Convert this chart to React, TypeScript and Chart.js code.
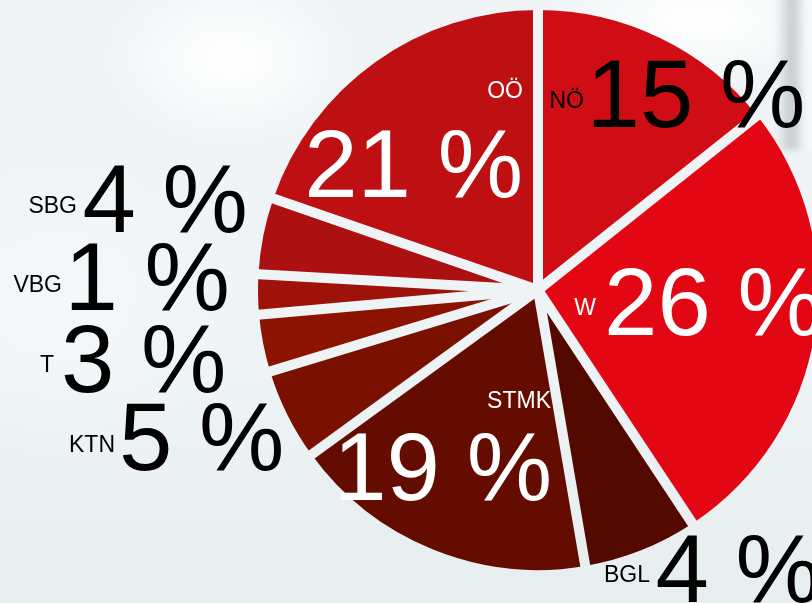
import React, { useEffect, useRef } from "react";
import { Chart, registerables } from "chart.js";

Chart.register(...registerables);

// Regions in drawing order (clockwise from 12 o'clock)
const regions = ["NÖ", "W", "BGL", "STMK", "KTN", "T", "VBG", "SBG", "OÖ"];
// Slice shares as drawn in the picture
const sliceShares = [14.3, 26.4, 6.6, 17.7, 5.3, 3.3, 2.3, 4.4, 19.7];
// Percent labels printed on the chart
const percentLabels = ["15 %", "26 %", "4 %", "19 %", "5 %", "3 %", "1 %", "4 %", "21 %"];

const sliceColors = [
  "#d00c15",
  "#e30613",
  "#530800",
  "#650c00",
  "#7a1100",
  "#8c1300",
  "#9e1209",
  "#ac1010",
  "#be0f12",
];
const labelColors = ["#000", "#fff", "#000", "#fff", "#000", "#000", "#000", "#000", "#fff"];

// Label layout relative to pie centre, in px for a 280px radius.
const labelLayout = [
  { bigAlign: "left", bx: 48.5, by: -163, sx: 46, sy: -182 },
  { bigAlign: "left", bx: 66, by: 45, sx: 58, sy: 25 },
  { bigAlign: "left", bx: 117.5, by: 312, sx: 112, sy: 292 },
  { bigAlign: "right", bx: 14, by: 210, sx: 13, sy: 118 },
  { bigAlign: "left", bx: -419, by: 180, sx: -423, sy: 162 },
  { bigAlign: "left", bx: -477, by: 102, sx: -484, sy: 82 },
  { bigAlign: "left", bx: -473.5, by: 20, sx: -476, sy: 2 },
  { bigAlign: "left", bx: -455.5, by: -58, sx: -461, sy: -77 },
  { bigAlign: "right", bx: -15, by: -93, sx: -15, sy: -192 },
];

const FONT = "'Liberation Sans', Arial, sans-serif";
const GAP = 10;

const gapAndLabelPlugin = {
  id: "gapsAndLabels",
  afterDatasetsDraw(chart: any) {
    const ctx = chart.ctx;
    const meta = chart.getDatasetMeta(0);
    // cut the white gaps between slices through to the page background
    ctx.save();
    ctx.globalCompositeOperation = "destination-out";
    ctx.strokeStyle = "#000";
    ctx.lineWidth = GAP;
    ctx.lineCap = "butt";
    meta.data.forEach((arc: any) => {
      const p = arc.getProps(["x", "y", "startAngle", "outerRadius"], true);
      const r = p.outerRadius + 4;
      ctx.beginPath();
      ctx.moveTo(p.x, p.y);
      ctx.lineTo(p.x + Math.cos(p.startAngle) * r, p.y + Math.sin(p.startAngle) * r);
      ctx.stroke();
    });
    ctx.restore();

    ctx.save();
    meta.data.forEach((arc: any, i: number) => {
      const p = arc.getProps(["x", "y", "outerRadius"], true);
      const k = p.outerRadius / 280;
      const L = labelLayout[i];
      ctx.fillStyle = labelColors[i];
      ctx.textBaseline = "alphabetic";
      ctx.font = `${Math.round(96 * k)}px ${FONT}`;
      ctx.textAlign = L.bigAlign;
      ctx.fillText(percentLabels[i], p.x + L.bx * k, p.y + L.by * k);
      ctx.font = `${Math.round(23 * k)}px ${FONT}`;
      ctx.textAlign = "right";
      ctx.fillText(regions[i], p.x + L.sx * k, p.y + L.sy * k);
    });
    ctx.restore();
  },
};

export default function App() {
  const ref = useRef<HTMLCanvasElement | null>(null);

  useEffect(() => {
    if (!ref.current) return;
    const chart = new Chart(ref.current, {
      type: "pie",
      data: {
        labels: regions,
        datasets: [
          {
            data: sliceShares,
            backgroundColor: sliceColors,
            borderWidth: 0,
            hoverOffset: 0,
            offset: 0,
          },
        ],
      },
      options: {
        responsive: false,
        animation: false,
        devicePixelRatio: 1,
        layout: { padding: { top: 10, bottom: 33, left: 0, right: 0 } },
        plugins: {
          legend: { display: false },
          title: { display: false },
          tooltip: { enabled: false },
        },
        events: [],
      },
      plugins: [gapAndLabelPlugin],
    });
    return () => chart.destroy();
  }, []);

  return (
    <div
      style={{
        position: "fixed",
        left: 0,
        top: 0,
        width: 812,
        height: 603,
        overflow: "hidden",
        background:
          "radial-gradient(ellipse 130px 90px at 230px 60px, #ffffff, rgba(255,255,255,0)), " +
          "radial-gradient(ellipse 160px 70px at 700px 20px, #ffffff, rgba(255,255,255,0)), " +
          "radial-gradient(ellipse 200px 160px at 60px 300px, #f4f8fa, rgba(244,248,250,0)), " +
          "linear-gradient(180deg, #f0f4f6 0%, #eef3f5 60%, #e7eef0 100%)",
      }}
    >
      <div
        style={{
          position: "absolute",
          left: 776,
          top: -10,
          width: 36,
          height: 160,
          background:
            "linear-gradient(90deg, rgba(190,196,200,0) 0%, rgba(165,172,176,0.6) 45%, rgba(235,238,240,0.85) 75%, rgba(255,255,255,1) 100%)",
          filter: "blur(3px)",
        }}
      />
      <canvas
        ref={ref}
        width={1076}
        height={603}
        style={{ position: "absolute", left: 0, top: 0, width: 1076, height: 603 }}
      />
    </div>
  );
}
